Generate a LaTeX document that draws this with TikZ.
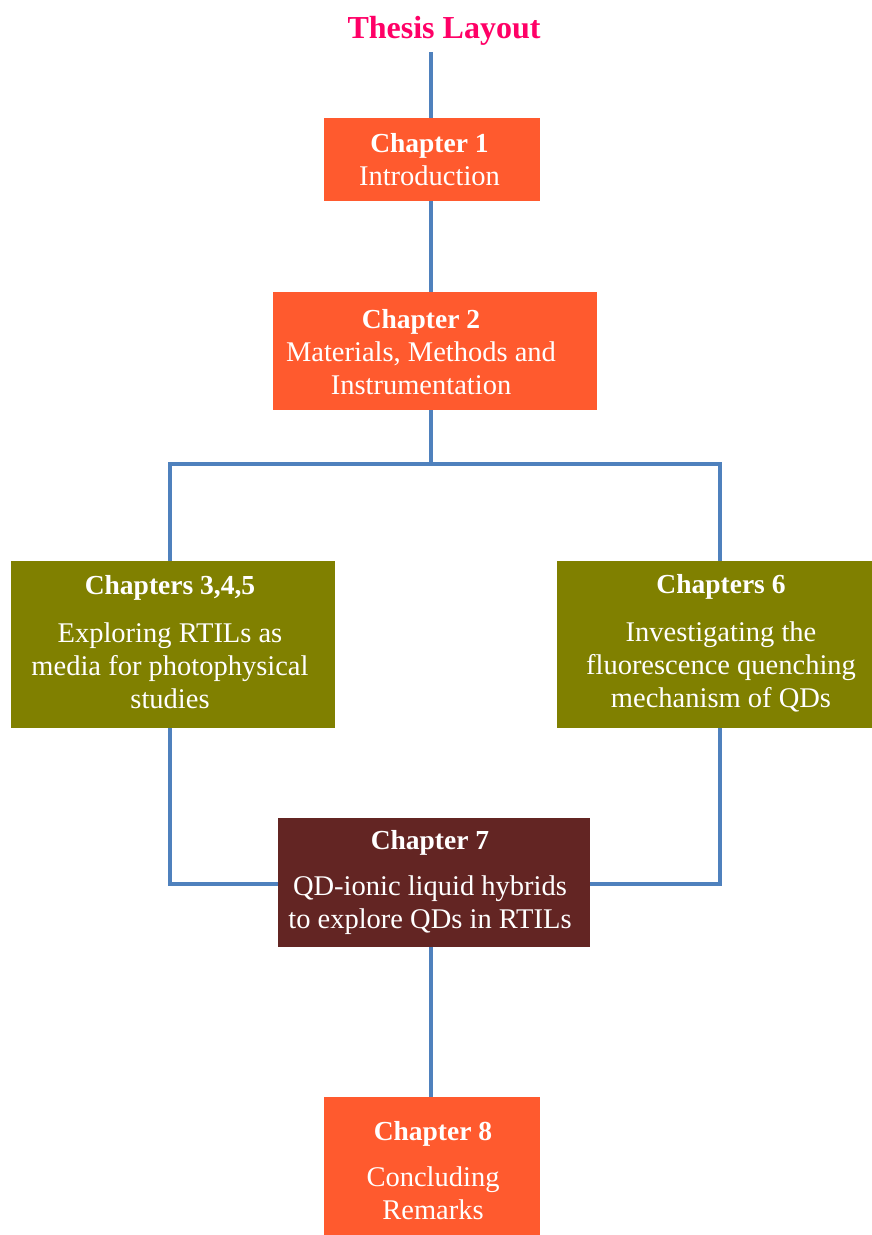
\documentclass[tikz,border=0pt]{standalone}
\usepackage{fontspec}
\setmainfont{Liberation Serif}
\definecolor{chorange}{HTML}{FF5A2E}
\definecolor{cholive}{HTML}{808000}
\definecolor{chmaroon}{HTML}{632523}
\definecolor{lineblue}{HTML}{4F81BD}
\definecolor{titlepink}{HTML}{FF0066}
\newcommand{\hd}[1]{{\fontsize{27.5}{33}\selectfont\bfseries #1}}
\begin{document}
\begin{tikzpicture}[x=1pt,y=-1pt,
  box/.style={inner sep=0pt, draw=none},
  txt/.style={inner sep=0pt, text=white, align=center,
    font=\fontsize{28.5}{33}\selectfont},
  conn/.style={draw=lineblue, line width=3.5pt}]
\useasboundingbox (0,0) rectangle (872,1235);
\node[font=\fontsize{32}{36}\selectfont\bfseries, text=titlepink] (title) at (444,31) {Thesis Layout};
\coordinate (top) at (431,52);
\node[box, fill=chorange, minimum width=216pt, minimum height=83pt] (c1) at (432,159.5) {};
\node[box, fill=chorange, minimum width=324pt, minimum height=118pt] (c2) at (435,351) {};
\node[box, fill=cholive, minimum width=324pt, minimum height=167pt] (c3) at (173,644.5) {};
\node[box, fill=cholive, minimum width=316pt, minimum height=167pt] (c6) at (715,644.5) {};
\node[box, fill=chmaroon, minimum width=312pt, minimum height=129pt] (c7) at (434,882.5) {};
\node[box, fill=chorange, minimum width=216pt, minimum height=138pt] (c8) at (432,1166) {};
\node[txt] (t1) at (429.5,159.5) {\hd{Chapter 1}\\Introduction};
\node[txt] (t2) at (421,352) {\hd{Chapter 2}\\Materials, Methods and\\Instrumentation};
\node[txt] (t3) at (170,642) {\hd{Chapters 3,4,5}\\[15pt]Exploring RTILs as\\media for photophysical\\studies};
\node[txt] (t6) at (721,643.5) {\hd{Chapters 6}\\[15pt]Investigating the\\fluorescence quenching\\mechanism of QDs};
\node[txt] (t7) at (430,882) {\hd{Chapter 7}\\[13pt]QD-ionic liquid hybrids\\to explore QDs in RTILs};
\node[txt] (t8) at (433,1171) {\hd{Chapter 8}\\[13pt]Concluding\\Remarks};
\coordinate (br) at (431,464);
\path[conn] (top) -- (c1.north -| top);
\path[conn] (c1.south -| top) -- (c2.north -| top);
\path[conn] (c2.south -| br) -- (br);
\path[conn] ([xshift=-3pt]c3.north) |- (br) -| ([xshift=5pt]c6.north);
\path[conn] ([xshift=-3pt]c3.south) |- ([yshift=-1.5pt]c7.west);
\path[conn] ([xshift=5pt]c6.south) |- ([yshift=-1.5pt]c7.east);
\path[conn] (c7.south -| top) -- (c8.north -| top);
\end{tikzpicture}
\end{document}
